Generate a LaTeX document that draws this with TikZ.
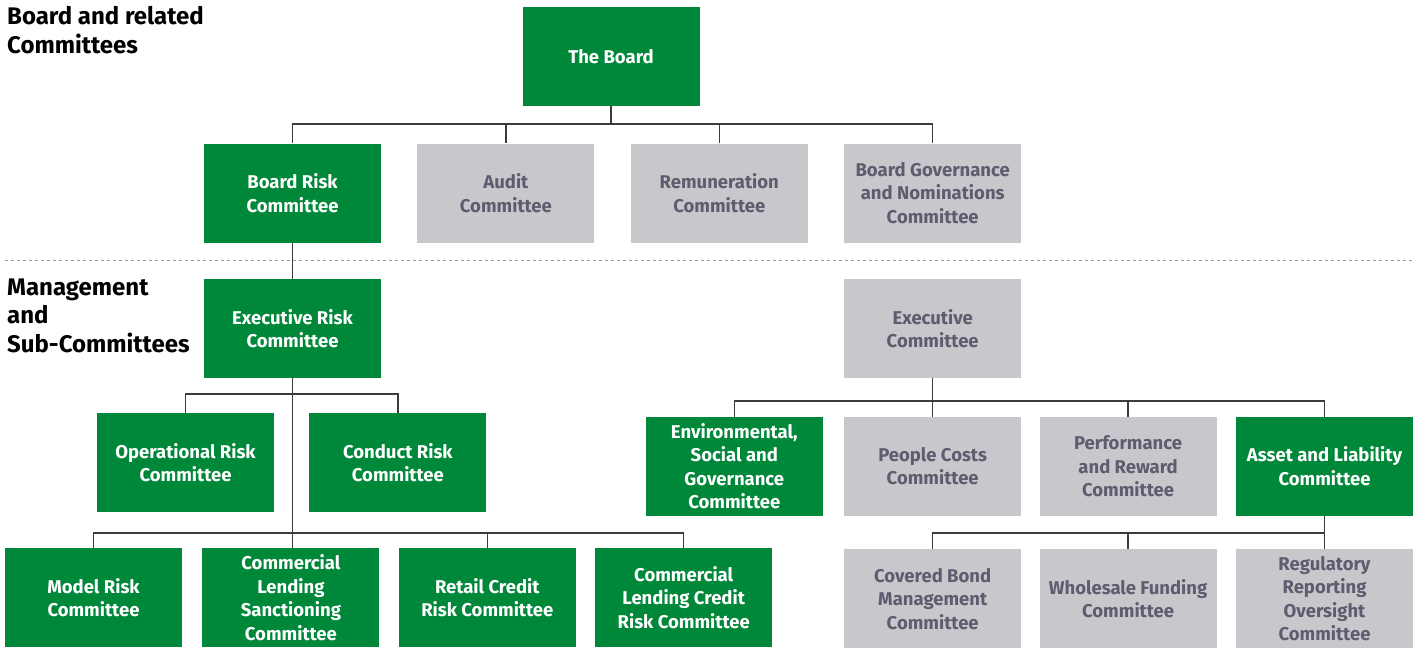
\documentclass[tikz,border=0pt]{standalone}
\usepackage{fontspec}
\setmainfont{Fira Sans}
\usetikzlibrary{positioning}
\definecolor{boardgreen}{HTML}{00883A}
\definecolor{boxgray}{HTML}{C8C8CC}
\definecolor{textgray}{HTML}{5E5C6E}
\definecolor{linegray}{HTML}{3C3C3C}

\begin{document}
\begin{tikzpicture}[x=1pt, y=-1pt,
  committee/.style={rectangle, minimum width=177pt, minimum height=99pt, inner sep=0pt, align=center, font=\fontsize{18.5}{23.5}\selectfont\bfseries},
  greenbox/.style={committee, fill=boardgreen, text=white},
  graybox/.style={committee, fill=boxgray, text=textgray},
  heading/.style={anchor=north west, align=left, inner sep=0pt, font=\fontsize{24}{28.5}\selectfont\bfseries},
  link/.style={draw=linegray, line width=1.3pt},
  divider/.style={draw=gray!80, line width=1.3pt, dash pattern=on 3pt off 3pt}]

\useasboundingbox (0,0) rectangle (1419,648);

% HEADINGS

\node[heading] (board-title) at (7,6.5) {Board and related\\Committees};
\node[heading] (mgmt-title) at (7,278.5) {Management\\and\\Sub-Committees};

\draw[divider] (5,260.5) -- (1413,260.5);

% BOARD AND COMMITTEES

\node[greenbox] (board) at (611,56.5) {The Board};

\node[greenbox] (brc) at (292.5,193) {Board Risk\\Committee};
\node[graybox, right=36pt of brc] (audit) {Audit\\Committee};
\node[graybox, right=36pt of audit] (remun) {Remuneration\\Committee};
\node[graybox, right=36pt of remun] (bgn) {Board Governance\\and Nominations\\Committee};

% MANAGEMENT

\node[greenbox, below=36pt of brc] (erc) {Executive Risk\\Committee};
\node[graybox, below=36pt of bgn] (exec) {Executive\\Committee};

\node[greenbox] (orc) at (185.5,462.5) {Operational Risk\\Committee};
\node[greenbox, right=35pt of orc] (crc) {Conduct Risk\\Committee};

\node[greenbox] (mrc) at (93.5,597.5) {Model Risk\\Committee};
\node[greenbox, right=20pt of mrc] (cls) {Commercial\\Lending\\Sanctioning\\Committee};
\node[greenbox, right=19pt of cls] (retail) {Retail Credit\\Risk Committee};
\node[greenbox, right=19pt of retail] (clcr) {Commercial\\Lending Credit\\Risk Committee};

\node[graybox, below=38.5pt of exec] (pcc) {People Costs\\Committee};
\node[greenbox, left=21pt of pcc] (esg) {Environmental,\\Social and\\Governance\\Committee};
\node[graybox, right=18pt of pcc] (prc) {Performance\\and Reward\\Committee};
\node[greenbox, right=19pt of prc] (alco) {Asset and Liability\\Committee};

\node[graybox, below=33pt of pcc] (cbm) {Covered Bond\\Management\\Committee};
\node[graybox, below=33pt of prc] (wfc) {Wholesale Funding\\Committee};
\node[graybox, below=33pt of alco] (rro) {Regulatory\\Reporting\\Oversight\\Committee};

% CONNECTORS

\coordinate (topbus) at (0,124);
\coordinate (riskbus) at (0,394);
\coordinate (execbus) at (0,401);
\coordinate (lowbus) at (0,533);

\foreach \c in {brc,audit,remun,bgn}
  \draw[link] (board.south) -- (board.south |- topbus) -| (\c.north);

\draw[link] (brc) -- (erc);
\draw[link] (erc.south) -- (erc.south |- cls.north);
\foreach \c in {orc,crc}
  \draw[link] (erc.south) -- (erc.south |- riskbus) -| (\c.north);
\foreach \c in {mrc,retail,clcr}
  \draw[link] (erc.south) -- (erc.south |- lowbus) -| (\c.north);

\draw[link] (exec) -- (pcc);
\foreach \c in {esg,prc,alco}
  \draw[link] (exec.south) -- (exec.south |- execbus) -| (\c.north);
\foreach \c in {cbm,wfc,rro}
  \draw[link] (alco.south) -- (alco.south |- lowbus) -| (\c.north);

\end{tikzpicture}
\end{document}
